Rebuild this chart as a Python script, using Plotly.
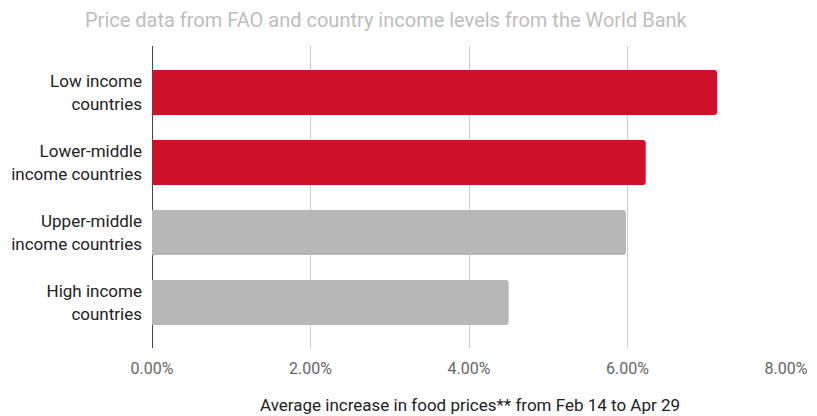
import plotly.graph_objects as go

categories = ["Low income<br>countries", "Lower-middle<br>income countries",
              "Upper-middle<br>income countries", "High income<br>countries"]
values = [0.0713, 0.0623, 0.0598, 0.0450]
bar_colors = ["#CE1029", "#CE1029", "#B7B7B7", "#B7B7B7"]
x_ticks = [0, 0.02, 0.04, 0.06, 0.08]

title_text = "Price data from FAO and country income levels from the World Bank"
x_title = "Average increase in food prices** from Feb 14 to Apr 29"

# page body has an 8px default margin; the figure is sized to fit the 817x416 window
off = 8
W, H = 817 - off, 416 - off

fig = go.Figure(go.Bar(
    x=values, y=categories, orientation="h",
    marker=dict(color=bar_colors, line=dict(width=0), cornerradius=3),
    hoverinfo="skip",
))

fig.update_layout(
    width=W, height=H,
    margin=dict(l=152 - off, r=31, t=46 - off, b=68),
    paper_bgcolor="white", plot_bgcolor="white",
    font=dict(family="Roboto", size=16, color="#222"),
    bargap=0.357,
    showlegend=False,
    title=dict(text=title_text, x=(85 - off)/W, xanchor="left", xref="container",
               y=1-(20 - off)/H, yanchor="middle", yref="container",
               font=dict(family="Roboto", size=20, color="#BDBDBD")),
    xaxis=dict(range=[0, 0.08], tickvals=x_ticks, tickformat=".2%",
               automargin=False,
               showgrid=True, gridcolor="#CCCCCC", gridwidth=1,
               zeroline=True, zerolinecolor="#444444", zerolinewidth=1,
               showline=False, ticks="", ticklabelstandoff=9,
               tickfont=dict(family="Roboto", size=16, color="#666666")),
    yaxis=dict(range=[3.65, -0.665], showgrid=False, zeroline=False,
               automargin=False,
               showline=False, ticks="", ticklabelstandoff=9,
               tickfont=dict(family="Roboto", size=17, color="#222222")),
    annotations=[dict(text=x_title, xref="paper", yref="paper",
                      x=(258-152)/634, y=0, yshift=-57,
                      xanchor="left", yanchor="middle", showarrow=False,
                      font=dict(family="Roboto", size=17, color="#222222"))],
)

fig.write_html("out.html")
